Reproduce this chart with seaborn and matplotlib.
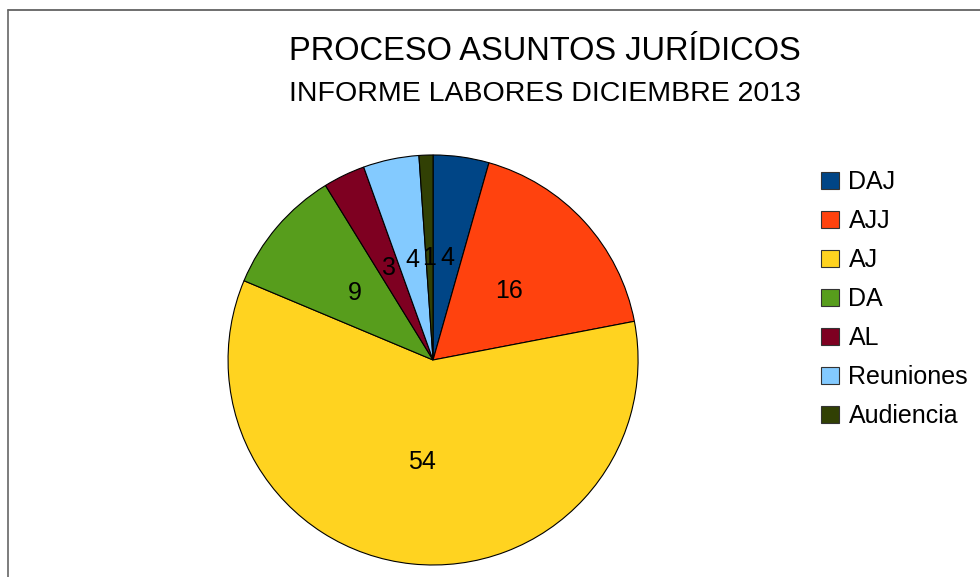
import matplotlib
matplotlib.use("Agg")
import matplotlib.pyplot as plt
from matplotlib.lines import Line2D
from matplotlib.patches import Patch
import seaborn as sns

sns.set_theme(style="white")
plt.rcParams['font.family'] = ['Liberation Sans', 'DejaVu Sans']
plt.rcParams['text.color'] = 'black'

categories = ["DAJ", "AJJ", "AJ", "DA", "AL", "Reuniones", "Audiencia"]
values = [4, 16, 54, 9, 3, 4, 1]
colors = sns.color_palette(["#004586", "#ff420e", "#ffd320", "#579d1c",
                            "#7e0021", "#83caff", "#314004"])

fig = plt.figure(figsize=(9.8, 5.77), dpi=100)
ax = fig.add_axes([0.2327, 0.0208, 0.4184, 0.7106])

total = sum(values)
wedges, texts, autotexts = ax.pie(
    values, colors=colors, startangle=90, counterclock=False,
    autopct=lambda p: f"{round(p * total / 100):d}", pctdistance=0.5,
    wedgeprops=dict(edgecolor="black", linewidth=0.8),
    textprops=dict(fontsize=18, color="black"))
ax.set_xlim(-1, 1)
ax.set_ylim(-1, 1)
ax.set_aspect("equal")

fig.text(0.556, 0.91, "PROCESO ASUNTOS JURÍDICOS", ha="center", va="center", fontsize=23.5)
fig.text(0.556, 0.837, "INFORME LABORES DICIEMBRE 2013", ha="center", va="center", fontsize=20.5)

handles = [Patch(facecolor=c, edgecolor="#333333", linewidth=0.8) for c in colors]
fig.legend(handles, categories, loc="upper left", bbox_to_anchor=(0.825, 0.727),
           frameon=False, fontsize=18, handlelength=0.7, handleheight=0.7,
           handletextpad=0.4, labelspacing=0.6, borderpad=0)

fig.add_artist(Line2D([0.008, 1.0], [0.983, 0.983], color="#555555", linewidth=1.2))
fig.add_artist(Line2D([0.008, 0.008], [0.0, 0.983], color="#666666", linewidth=1.2))

fig.savefig("out.png", dpi=100)
